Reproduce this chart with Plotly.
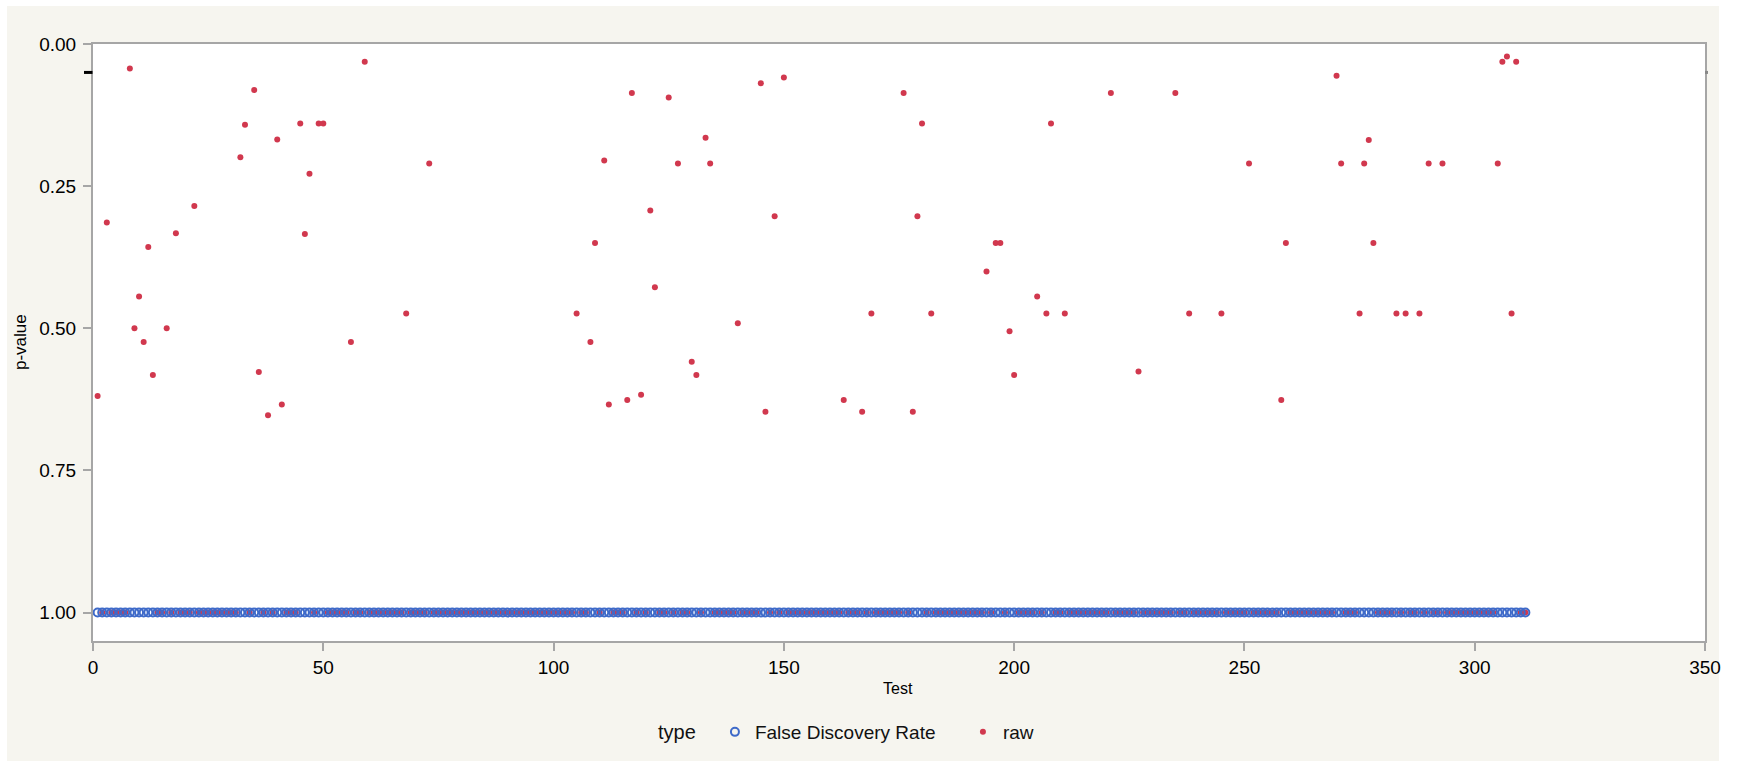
import plotly.graph_objects as go

# ---------------- data ----------------
n_tests = 311
fdr_test = list(range(1, n_tests + 1))
fdr_p = [1.0] * n_tests

raw_test_sig = [1, 3, 8, 9, 10, 11, 12, 13, 16, 18, 22, 32, 33, 35, 36, 38, 40, 41,
                45, 46, 47, 49, 50, 56, 59, 68, 73, 105, 108, 109, 111, 112, 116,
                117, 119, 121, 122, 125, 127, 130, 131, 133, 134, 140, 145, 146,
                148, 150, 163, 167, 169, 176, 178, 179, 180, 182, 194, 196, 197,
                199, 200, 205, 207, 208, 211, 221, 227, 235, 238, 245, 251, 258,
                259, 270, 271, 275, 276, 277, 278, 283, 285, 288, 290, 293, 305,
                306, 307, 308, 309]
raw_p_sig = [0.619, 0.314, 0.043, 0.500, 0.444, 0.524, 0.357, 0.582, 0.500, 0.333,
             0.285, 0.199, 0.142, 0.081, 0.577, 0.653, 0.168, 0.634, 0.140, 0.334,
             0.228, 0.140, 0.140, 0.524, 0.031, 0.474, 0.210, 0.474, 0.524, 0.350,
             0.205, 0.634, 0.626, 0.086, 0.617, 0.293, 0.428, 0.094, 0.210, 0.559,
             0.582, 0.165, 0.210, 0.491, 0.069, 0.647, 0.303, 0.059, 0.626, 0.647,
             0.474, 0.086, 0.647, 0.303, 0.140, 0.474, 0.400, 0.350, 0.350, 0.505,
             0.582, 0.444, 0.474, 0.140, 0.474, 0.086, 0.576, 0.086, 0.474, 0.474,
             0.210, 0.626, 0.350, 0.056, 0.210, 0.474, 0.210, 0.169, 0.350, 0.474,
             0.474, 0.474, 0.210, 0.210, 0.210, 0.031, 0.022, 0.474, 0.031]
raw_lookup = dict(zip(raw_test_sig, raw_p_sig))
raw_test = fdr_test
raw_p = [raw_lookup.get(t, 1.0) for t in raw_test]

x_ticks = [0, 50, 100, 150, 200, 250, 300, 350]
y_ticks = [0.0, 0.25, 0.5, 0.75, 1.0]
y_ticktext = ["0.00", "0.25", "0.50", "0.75", "1.00"]
alpha_level = 0.05

# ---------------- figure ----------------
W, H = 1739, 761
L, R, T, B = 93, 34, 44, 120
pw, ph = W - L - R, H - T - B


def px_x(px):
    return (px - L) / pw


def px_y(py):
    return (H - B - py) / ph


RED = "#D1384E"
BLUE = "#3E6AC9"
BEIGE = "#F6F5EF"
GRAY = "#A6A6A6"
FONT = "Liberation Sans, Arial, sans-serif"

fig = go.Figure()
fig.add_trace(go.Scatter(
    x=raw_test, y=raw_p, mode="markers", name="raw", legendrank=2,
    marker=dict(symbol="circle", size=6, color=RED),
))
fig.add_trace(go.Scatter(
    x=fdr_test, y=fdr_p, mode="markers", name="False Discovery Rate", legendrank=1,
    marker=dict(symbol="circle-open", size=8, color=BLUE, line=dict(width=2, color=BLUE)),
))

shapes = [
    dict(type="rect", xref="paper", yref="paper", x0=px_x(7), x1=px_x(1719),
         y0=px_y(761), y1=px_y(6), fillcolor=BEIGE, line=dict(width=0), layer="below"),
    dict(type="rect", xref="paper", yref="paper", x0=0, x1=1, y0=0, y1=1,
         fillcolor="white", line=dict(width=0), layer="below"),
    dict(type="line", xref="paper", yref="y", x0=px_x(84), x1=px_x(92.5),
         y0=alpha_level, y1=alpha_level, line=dict(color="black", width=3)),
    dict(type="line", xref="paper", yref="y", x0=px_x(1705), x1=px_x(1708),
         y0=alpha_level, y1=alpha_level, line=dict(color="#888888", width=3)),
]

annotations = [
    dict(text="Test", xref="paper", yref="paper", x=px_x(898), y=px_y(688),
         xanchor="center", yanchor="middle", showarrow=False,
         font=dict(family=FONT, size=16, color="black")),
    dict(text="p-value", xref="paper", yref="paper", x=px_x(20), y=px_y(342),
         xanchor="center", yanchor="middle", showarrow=False, textangle=-90,
         font=dict(family=FONT, size=17, color="black")),
]

fig.update_layout(
    width=W, height=H,
    margin=dict(l=L, r=R, t=T, b=B, autoexpand=False),
    paper_bgcolor="white",
    plot_bgcolor="white",
    font=dict(family=FONT, size=19, color="black"),
    shapes=shapes,
    annotations=annotations,
    showlegend=True,
    legend=dict(
        orientation="h", x=px_x(656), y=px_y(732), xanchor="left", yanchor="middle",
        bgcolor="rgba(0,0,0,0)", borderwidth=0,
        title=dict(text="type&nbsp;&nbsp;", side="left", font=dict(family=FONT, size=20)),
        font=dict(family=FONT, size=19, color="#111111"),
        entrywidth=203,
    ),
    xaxis=dict(
        range=[0, 350], tickvals=x_ticks, ticks="outside", ticklen=8, tickwidth=1.5,
        tickcolor=GRAY, showline=True, linecolor=GRAY, linewidth=2, mirror=True,
        showgrid=False, zeroline=False, tickfont=dict(family=FONT, size=19),
    ),
    yaxis=dict(
        range=[1.05, 0], tickvals=y_ticks, ticktext=y_ticktext, ticks="outside",
        ticklen=8, tickwidth=1.5, tickcolor=GRAY, showline=True, linecolor=GRAY,
        linewidth=2, mirror=True, showgrid=False, zeroline=False,
        tickfont=dict(family=FONT, size=19), ticklabelstandoff=3,
    ),
)

fig.write_html("out.html", config={"displayModeBar": False},
               post_script="document.body.style.margin='0';")
